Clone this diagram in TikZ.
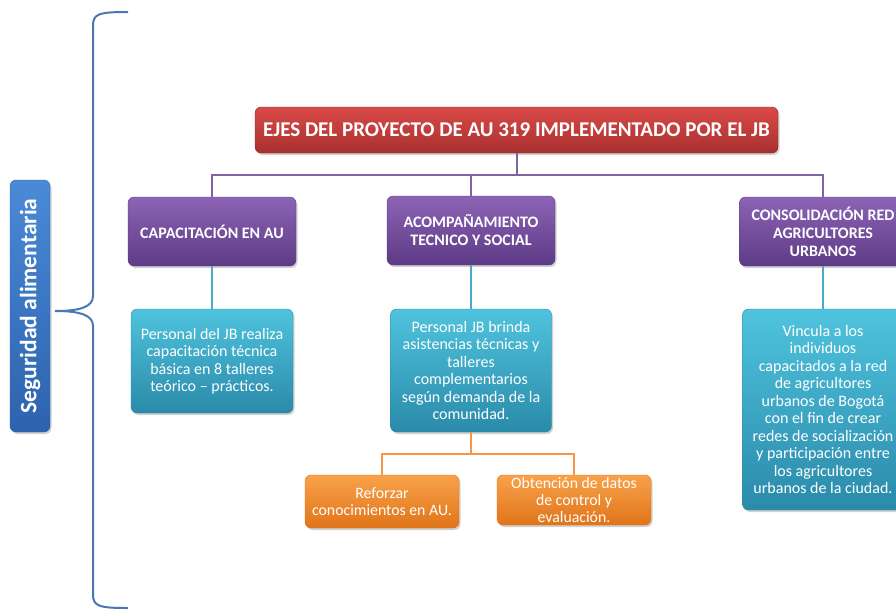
\documentclass[tikz,border=0pt]{standalone}
\usepackage{fontspec}
\setmainfont{Carlito}
\usetikzlibrary{shadows}
\definecolor{redT}{HTML}{D94A48}
\definecolor{redB}{HTML}{A8302E}
\definecolor{purT}{HTML}{8C63B5}
\definecolor{purB}{HTML}{5D3B86}
\definecolor{cyaT}{HTML}{4FC3DD}
\definecolor{cyaB}{HTML}{2A8AAA}
\definecolor{orT}{HTML}{F8A24A}
\definecolor{orB}{HTML}{E0741A}
\definecolor{bluT}{HTML}{4A8AD6}
\definecolor{bluB}{HTML}{2D62AE}
\definecolor{purL}{HTML}{8064A2}
\definecolor{cyaL}{HTML}{4BACC6}
\definecolor{orL}{HTML}{F79646}
\definecolor{brc}{HTML}{4A77B4}
\tikzset{
  base/.style={rounded corners=6pt, inner sep=0pt, align=center, text=white,
    drop shadow={opacity=0.35, shadow xshift=1.5pt, shadow yshift=-2pt}},
  redbox/.style={base, top color=redT, bottom color=redB, draw=redB!80!black,
    font=\bfseries\fontsize{21}{24}\selectfont},
  purbox/.style={base, top color=purT, bottom color=purB, draw=purB,
    font=\bfseries\fontsize{16}{18}\selectfont},
  cyabox/.style={base, top color=cyaT, bottom color=cyaB, draw=cyaB,
    font=\fontsize{16}{17.5}\selectfont},
  orbox/.style={base, top color=orT, bottom color=orB, draw=orB,
    font=\fontsize{15.8}{17}\selectfont},
  blubox/.style={base, top color=bluT, bottom color=bluB, draw=bluB, rotate=90,
    font=\bfseries\fontsize{23.5}{26}\selectfont},
  pline/.style={draw=purL, line width=2pt},
  cline/.style={draw=cyaL, line width=2.5pt},
  oline/.style={draw=orL, line width=2.5pt},
  bline/.style={draw=brc, line width=2pt}
}
\begin{document}
\begin{tikzpicture}[x=1pt,y=-1pt]
\useasboundingbox (0,0) rectangle (896,611);
\clip (0,0) rectangle (896,611);
\fill[white] (0,0) rectangle (896,611);

% brace
\draw[bline] (128,12) .. controls (98,12) and (93,14) .. (93,26) -- (93,296)
  .. controls (93,307) and (80,311) .. (55,311)
  .. controls (80,311) and (93,315) .. (93,326) -- (93,594)
  .. controls (93,606) and (98,608) .. (128,608);

% left label
\node[blubox, minimum width=252pt, minimum height=40pt] (lab) at (30,306) {Seguridad alimentaria};

% title
\node[redbox, minimum width=523pt, minimum height=46pt] (t) at (516.5,130) {EJES DEL PROYECTO DE AU 319 IMPLEMENTADO POR EL JB};

% purple boxes
\node[purbox, minimum width=168pt, minimum height=69pt] (p1) at (212,231.5) {CAPACITACIÓN EN AU};
\node[purbox, minimum width=168pt, minimum height=69pt] (p2) at (471,230.5) {ACOMPAÑAMIENTO\\TECNICO Y SOCIAL};
\node[purbox, minimum width=167pt, minimum height=69pt] (p3) at (823,231.5) {CONSOLIDACIÓN RED\\AGRICULTORES\\URBANOS};

% cyan boxes
\node[cyabox, minimum width=162pt, minimum height=104pt] (c1) at (212,361) {Personal del JB realiza\\capacitación técnica\\básica en 8 talleres\\teórico -- prácticos.};
\node[cyabox, minimum width=161pt, minimum height=123pt] (c2) at (471,370.5) {Personal JB brinda\\asistencias técnicas y\\talleres\\complementarios\\según demanda de la\\comunidad.};
\node[cyabox, minimum width=161pt, minimum height=201pt] (c3) at (823,409.5) {Vincula a los\\individuos\\capacitados a la red\\de agricultores\\urbanos de Bogotá\\con el fin de crear\\redes de socialización\\y participación entre\\los agricultores\\urbanos de la ciudad.};

% orange boxes
\node[orbox, minimum width=154pt, minimum height=53pt] (o1) at (382,501.5) {Reforzar\\conocimientos en AU.};
\node[orbox, minimum width=154pt, minimum height=50pt] (o2) at (574,500) {Obtención de datos\\de control y\\evaluación.};

% connectors
\coordinate (hb) at (516.5,175);
\draw[pline] (t.south) -- (hb);
\draw[pline] (p1.north) |- (hb) -| (p3.north);
\draw[pline] (p2.north) -- (p2.north |- hb);

\draw[cline] (p1.south) -- (c1.north);
\draw[cline] (p2.south) -- (c2.north);
\draw[cline] (p3.south) -- (c3.north);

\coordinate (ob) at (471,454);
\draw[oline] (c2.south) -- (ob);
\draw[oline] (o1.north) |- (ob) -| (o2.north);
\end{tikzpicture}
\end{document}
